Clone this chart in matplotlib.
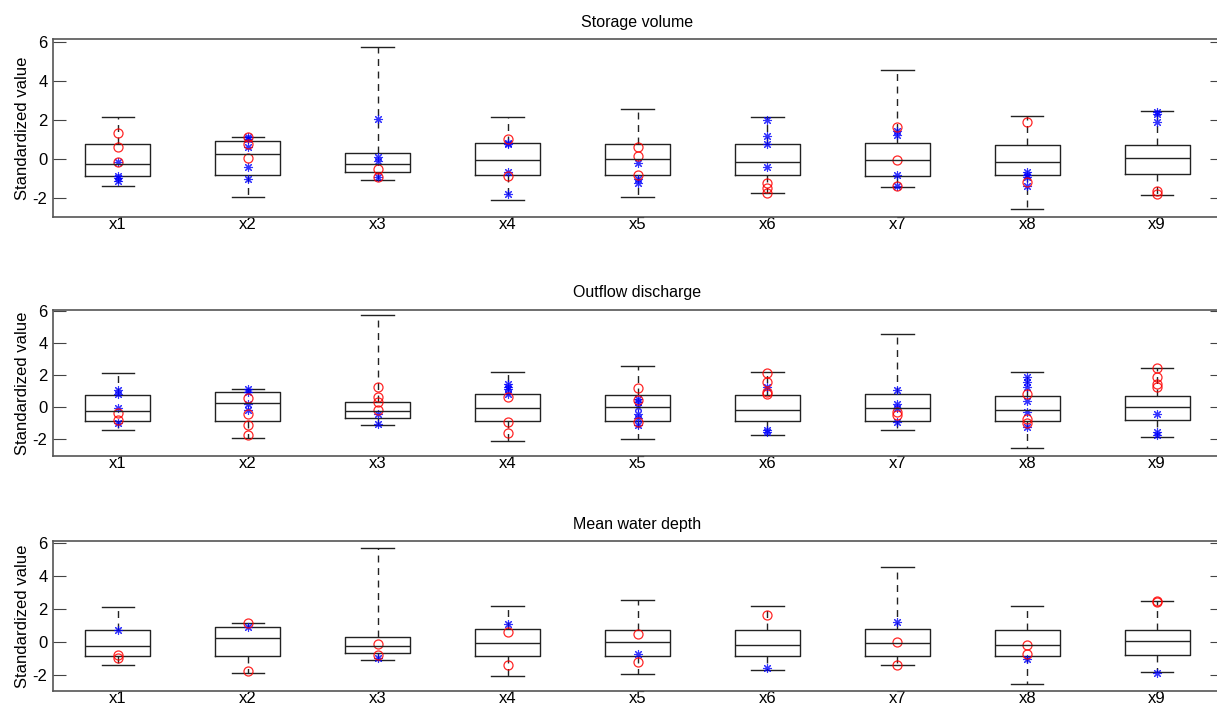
import numpy as np
import matplotlib
matplotlib.use("Agg")
import matplotlib.pyplot as plt

plt.rcParams['font.family'] = ['Liberation Sans', 'DejaVu Sans']
plt.rcParams['axes.unicode_minus'] = False

# =============================================================================
# DATOS
# =============================================================================
variables = ['x1', 'x2', 'x3', 'x4', 'x5', 'x6', 'x7', 'x8', 'x9']
panel_titles = ['Storage volume', 'Outflow discharge', 'Mean water depth']

# estadísticos de las cajas (iguales en los tres paneles)
whisker_low = [-1.40, -1.93, -1.09, -2.10, -1.97, -1.73, -1.42, -2.58, -1.85]
q1 = [-0.89, -0.84, -0.68, -0.84, -0.84, -0.84, -0.89, -0.84, -0.79]
median = [-0.24, 0.26, -0.26, -0.05, 0.00, -0.17, -0.05, -0.17, 0.03]
q3 = [0.75, 0.92, 0.32, 0.80, 0.75, 0.75, 0.80, 0.72, 0.72]
whisker_high = [2.14, 1.13, 5.74, 2.17, 2.55, 2.17, 4.58, 2.21, 2.46]

# puntos rojos (círculos) y azules (asteriscos) por panel y variable
red_storage = [[1.32, 0.60, -0.17], [1.13, 0.75, 0.05], [-0.53, -0.92],
               [1.04, -0.89], [0.60, 0.14, -0.80], [-1.23, -1.47, -1.74],
               [1.62, -0.03, -1.37], [1.91, -1.20], [-1.64, -1.78]]
blue_storage = [[-0.17, -0.89, -0.97, -1.11], [1.13, 1.05, 0.60, -0.41, -1.00],
                [2.03, 0.10, -0.09, -0.92], [0.82, 0.75, -0.68, -1.78],
                [-0.21, -1.00, -1.21], [1.98, 1.18, 0.75, -0.41],
                [1.44, 1.25, -0.80, -1.37], [-0.67, -0.80, -0.92, -1.40],
                [2.41, 2.29, 1.90]]

red_outflow = [[-0.34, -0.80], [0.59, -0.42, -1.11, -1.75],
               [1.28, 0.66, 0.35, -0.17], [0.62, -0.90, -1.59],
               [1.18, 0.45, -0.90], [2.11, 1.57, 0.93, 0.80],
               [-0.28, -0.49], [0.80, -0.76, -0.96], [2.42, 1.90, 1.45, 1.28]]
blue_outflow = [[1.07, 0.84, -0.07, -0.96], [1.11, 0.95, 0.20, -0.20],
                [-0.42, -1.07], [1.45, 1.28, 1.11, 0.82],
                [0.49, 0.30, 0.03, -0.42, -0.70, -1.11], [1.28, -1.42, -1.53],
                [1.09, 0.20, -0.07, -0.90], [1.90, 1.57, 1.28, 0.39, -0.28, -1.21],
                [-0.40, -1.53, -1.73]]

red_depth = [[-0.78, -0.98], [1.12, -1.78], [-0.14, -0.78], [0.62, -1.40],
             [0.46, -1.22], [1.62], [-0.04, -1.40], [-0.22, -0.72], [2.46, 2.44]]
blue_depth = [[0.72], [0.92], [-0.98], [1.06], [-0.74], [-1.60], [1.22],
              [-1.04], [-1.88]]

red_points = [red_storage, red_outflow, red_depth]
blue_points = [blue_storage, blue_outflow, blue_depth]

# =============================================================================
# FIGURA
# =============================================================================
W, H = 1217, 710
fig = plt.figure(figsize=(W / 100, H / 100), dpi=100)

# posiciones de los ejes en píxeles (izq, arriba, dcha, abajo); el borde
# derecho queda fuera de la imagen, como en el original recortado
axes_px = [(53, 39, 1222, 217), (53, 310, 1222, 456), (53, 541, 1222, 691)]
ylims = [(-2.97, 6.15), (-3.05, 6.06), (-3.0, 6.15)]

stats = []
for i, nombre in enumerate(variables):
    stats.append(dict(label=nombre, whislo=whisker_low[i], q1=q1[i], med=median[i],
                      q3=q3[i], whishi=whisker_high[i], fliers=[]))

posiciones = np.arange(1, len(variables) + 1)
color_linea = '#222222'

for p, (l, t, r, b) in enumerate(axes_px):
    ax = fig.add_axes([l / W, 1 - b / H, (r - l) / W, (b - t) / H])
    ax.bxp(stats, positions=posiciones, widths=0.5, showfliers=False,
           boxprops=dict(color=color_linea, lw=1.0),
           medianprops=dict(color=color_linea, lw=1.0),
           whiskerprops=dict(color=color_linea, lw=1.0, linestyle=(0, (5, 4))),
           capprops=dict(color=color_linea, lw=1.0),
           capwidths=0.25)

    for i, pos in enumerate(posiciones):
        rojos = red_points[p][i]
        azules = blue_points[p][i]
        ax.plot([pos] * len(azules), azules, linestyle='none', marker=(8, 2, 0),
                markersize=6.5, color='blue', mew=0.8, alpha=0.8)
        ax.plot([pos] * len(rojos), rojos, linestyle='none', marker='o',
                markersize=6.5, mfc='none', mec='red', mew=0.9, alpha=0.85)

    ax.set_xlim(0.5, 9.5)
    ax.set_ylim(*ylims[p])
    ax.set_yticks([-2, 0, 2, 4, 6])
    ax.set_xticks(posiciones)
    ax.set_xticklabels(variables)
    ax.tick_params(axis='y', direction='in', length=9, right=True, labelsize=12,
                   color='#444444', pad=4)
    ax.tick_params(axis='x', length=0, labelsize=12, pad=0)
    for s in ax.spines.values():
        s.set_color('#555555')
        s.set_linewidth(1.2)
    ax.set_ylabel('Standardized value', fontsize=12, labelpad=2)
    ax.set_title(panel_titles[p], fontsize=11.5, pad=9)

fig.savefig('out.png', dpi=100)
